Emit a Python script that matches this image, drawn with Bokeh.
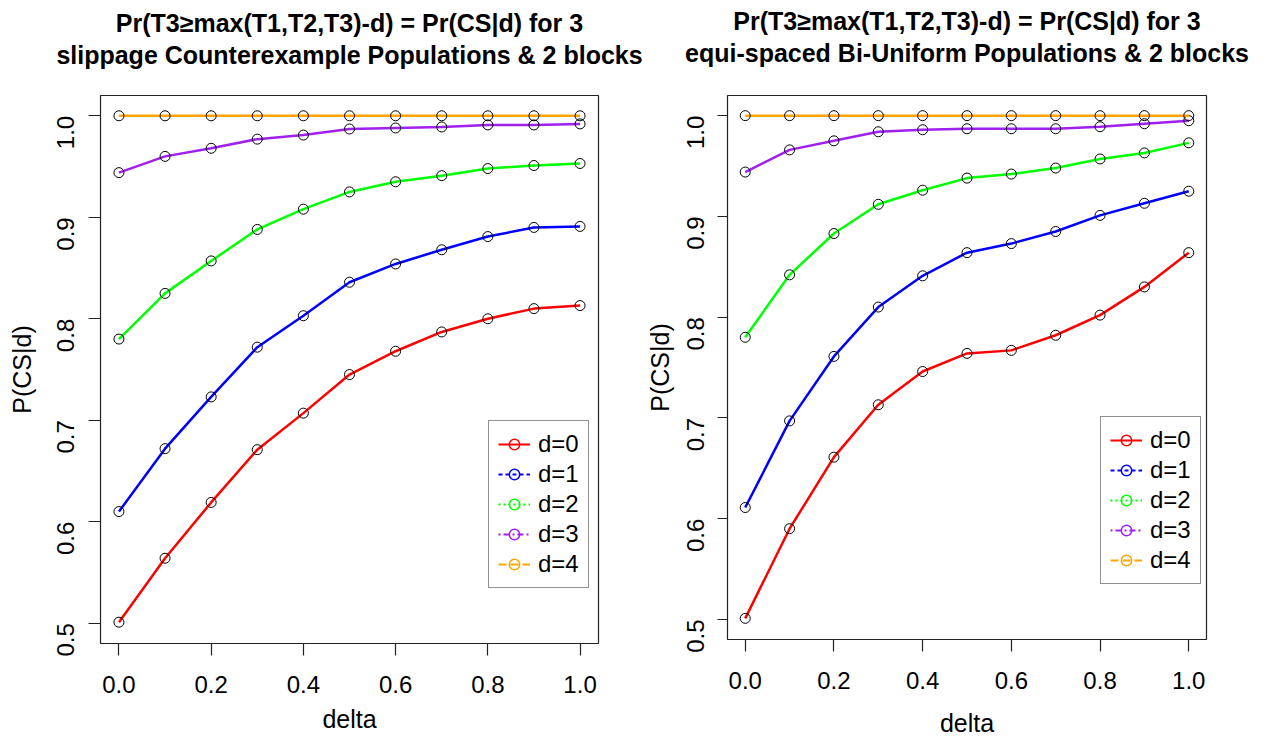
import math
from bokeh.plotting import figure
from bokeh.layouts import row
from bokeh.models import (ColumnDataSource, Range1d, FixedTicker, PrintfTickFormatter,
                          Legend, LegendItem, Title)
from bokeh.embed import file_html
from bokeh.resources import INLINE

# ---------------- data ----------------
delta = [0.0, 0.1, 0.2, 0.3, 0.4, 0.5, 0.6, 0.7, 0.8, 0.9, 1.0]

# Left panel: slippage Counterexample Populations
left_d0 = [0.501, 0.564, 0.619, 0.671, 0.707, 0.745, 0.768, 0.787, 0.800, 0.810, 0.813]
left_d1 = [0.610, 0.672, 0.723, 0.772, 0.803, 0.836, 0.854, 0.868, 0.881, 0.890, 0.891]
left_d2 = [0.780, 0.825, 0.857, 0.888, 0.908, 0.925, 0.935, 0.941, 0.948, 0.951, 0.953]
left_d3 = [0.944, 0.960, 0.968, 0.977, 0.981, 0.987, 0.988, 0.989, 0.991, 0.991, 0.992]
left_d4 = [1.000, 1.000, 1.000, 1.000, 1.000, 1.000, 1.000, 1.000, 1.000, 1.000, 1.000]

# Right panel: equi-spaced Bi-Uniform Populations
right_d0 = [0.501, 0.590, 0.661, 0.713, 0.746, 0.764, 0.767, 0.782, 0.802, 0.830, 0.864]
right_d1 = [0.611, 0.697, 0.761, 0.810, 0.841, 0.864, 0.873, 0.885, 0.901, 0.913, 0.925]
right_d2 = [0.780, 0.842, 0.883, 0.912, 0.926, 0.938, 0.942, 0.948, 0.957, 0.963, 0.973]
right_d3 = [0.944, 0.966, 0.975, 0.984, 0.986, 0.987, 0.987, 0.987, 0.989, 0.992, 0.995]
right_d4 = [1.000, 1.000, 1.000, 1.000, 1.000, 1.000, 1.000, 1.000, 1.000, 1.000, 1.000]

series_labels = ["d=0", "d=1", "d=2", "d=3", "d=4"]
series_colors = ["#FF0000", "#0000FF", "#00FF00", "#A020F0", "#FFA500"]
legend_dashes = ["solid", "4 3", "2 3", "2 3 6 3", "8 4"]

x_ticks = [0.0, 0.2, 0.4, 0.6, 0.8, 1.0]
y_ticks = [0.5, 0.6, 0.7, 0.8, 0.9, 1.0]

title_line1 = "Pr(T3\u2265max(T1,T2,T3)-d) = Pr(CS|d) for 3"
left_title_line2 = "slippage Counterexample Populations & 2 blocks"
right_title_line2 = "equi-spaced Bi-Uniform Populations & 2 blocks"
x_label = "delta"
y_label = "P(CS|d)"

FONT = "Liberation Sans"


def make_panel(series, line2, frame_w, frame_h, b_left, b_top, b_right, b_bottom,
               legend_loc, tick_y, ytick_standoff, ylab_standoff, xlab_standoff, spacer_so):
    p = figure(output_backend="svg", toolbar_location=None,
               frame_width=frame_w, frame_height=frame_h,
               min_border_left=b_left, min_border_top=b_top,
               min_border_right=b_right, min_border_bottom=b_bottom,
               x_range=Range1d(-0.04, 1.04), y_range=Range1d(0.48, 1.02),
               background_fill_color="white", border_fill_color="white")
    p.title.visible = False
    p.grid.visible = False
    p.outline_line_color = "#222222"
    p.outline_line_width = 1.2

    # titles: first added sits nearest to the frame (a blank spacer, then the two lines)
    p.add_layout(Title(text=" ", align="center", text_font=FONT, text_font_size="22px",
                       standoff=spacer_so), "above")
    p.add_layout(Title(text=line2, align="center", text_font=FONT, text_font_size="25px",
                       text_font_style="bold", text_color="black", standoff=0), "above")
    p.add_layout(Title(text=title_line1, align="center", text_font=FONT, text_font_size="25px",
                       text_font_style="bold", text_color="black", standoff=4), "above")

    for ax in (p.xaxis[0], p.yaxis[0]):
        ax.axis_line_color = None
        ax.major_tick_line_color = "#222222"
        ax.major_tick_line_width = 1.2
        ax.major_tick_in = 0
        ax.major_tick_out = 12
        ax.minor_tick_line_color = None
        ax.major_label_text_font = FONT
        ax.major_label_text_font_size = "24px"
        ax.major_label_text_color = "black"
        ax.axis_label_text_font = FONT
        ax.axis_label_text_font_size = "25px"
        ax.axis_label_text_font_style = "normal"
        ax.axis_label_text_color = "black"
        ax.formatter = PrintfTickFormatter(format="%.1f")

    p.xaxis.ticker = FixedTicker(ticks=x_ticks)
    p.yaxis.ticker = FixedTicker(ticks=y_ticks)
    p.xaxis.axis_label = x_label
    p.yaxis.axis_label = y_label
    p.xaxis.major_label_standoff = 20
    p.xaxis.axis_label_standoff = xlab_standoff
    p.yaxis.major_tick_out = tick_y
    p.yaxis.major_label_orientation = math.pi / 2
    p.yaxis.major_label_standoff = ytick_standoff
    p.yaxis.axis_label_standoff = ylab_standoff

    items = []
    for vals, lab, col, dash in zip(series, series_labels, series_colors, legend_dashes):
        src = ColumnDataSource(dict(x=delta, y=vals))
        p.line("x", "y", source=src, line_color=col, line_width=2.5)
        p.scatter("x", "y", source=src, marker="circle", size=10,
                  fill_color=None, line_color="black", line_width=1)
        # legend-only renderers (R legend shows line types and coloured circles)
        lg_line = p.line("x", "y", source=src, line_color=col, line_width=1.8,
                         line_dash=dash, visible=False)
        lg_pt = p.scatter("x", "y", source=src, marker="circle", size=10,
                          fill_color=None, line_color=col, line_width=1.5, visible=False)
        items.append(LegendItem(label=lab, renderers=[lg_line, lg_pt]))

    legend = Legend(items=items, location=legend_loc, margin=0, padding=9, spacing=2,
                    glyph_width=32, glyph_height=26, label_height=26, label_standoff=8,
                    label_text_font=FONT, label_text_font_size="24px",
                    label_text_color="black",
                    border_line_color="#222222", border_line_width=1.2,
                    background_fill_color="white", background_fill_alpha=1.0,
                    click_policy="none")
    p.add_layout(legend, "center")
    return p


p1 = make_panel([left_d0, left_d1, left_d2, left_d3, left_d4], left_title_line2,
                498, 548, 100, 93, 44, 88, (388, 55), 12, 23, 10, 9, 0)
p2 = make_panel([right_d0, right_d1, right_d2, right_d3, right_d4], right_title_line2,
                479, 544, 85, 95, 50, 90, (373, 55), 10, 22, 2, 17, 2)

layout = row(p1, p2, spacing=0)
open("out.html", "w").write(file_html(layout, INLINE))
